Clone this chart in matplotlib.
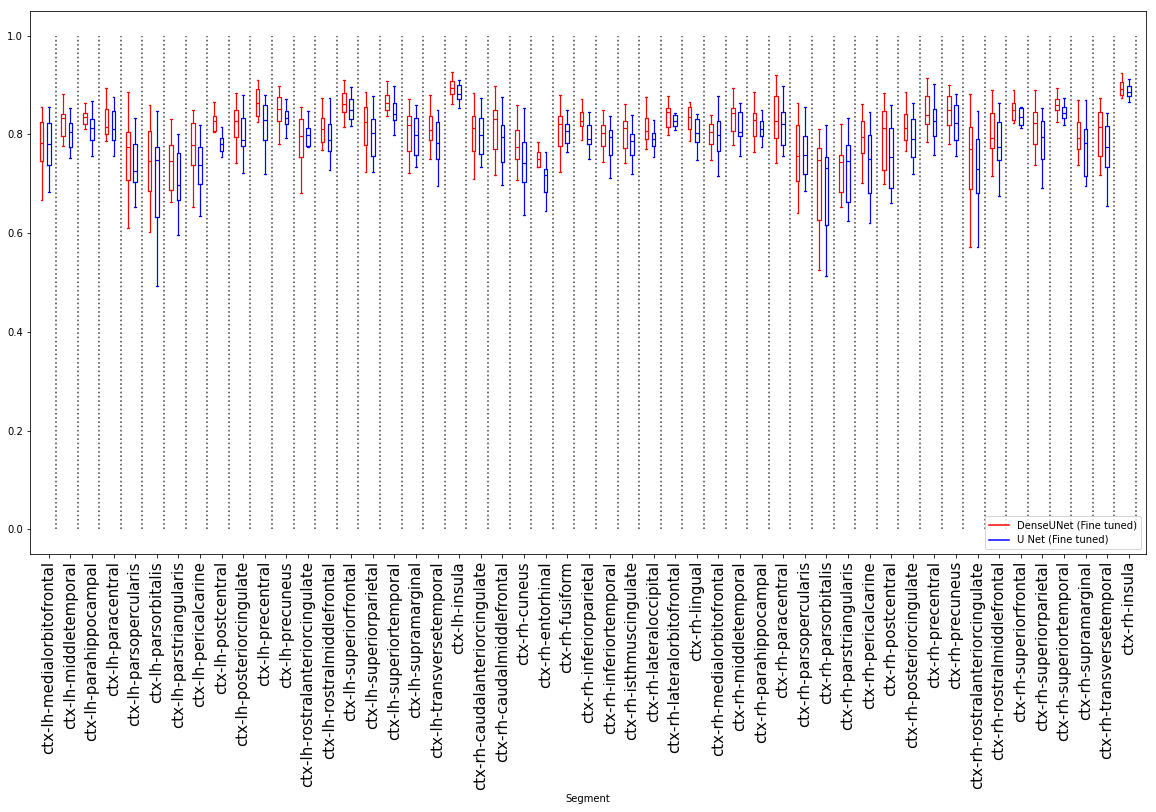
import matplotlib
matplotlib.use("Agg")
import matplotlib.pyplot as plt
from matplotlib.lines import Line2D


segments = [
    "ctx-lh-medialorbitofrontal", "ctx-lh-middletemporal", "ctx-lh-parahippocampal",
    "ctx-lh-paracentral", "ctx-lh-parsopercularis", "ctx-lh-parsorbitalis",
    "ctx-lh-parstriangularis", "ctx-lh-pericalcarine", "ctx-lh-postcentral",
    "ctx-lh-posteriorcingulate", "ctx-lh-precentral", "ctx-lh-precuneus",
    "ctx-lh-rostralanteriorcingulate", "ctx-lh-rostralmiddlefrontal",
    "ctx-lh-superiorfrontal", "ctx-lh-superiorparietal", "ctx-lh-superiortemporal",
    "ctx-lh-supramarginal", "ctx-lh-transversetemporal", "ctx-lh-insula",
    "ctx-rh-caudalanteriorcingulate", "ctx-rh-caudalmiddlefrontal", "ctx-rh-cuneus",
    "ctx-rh-entorhinal", "ctx-rh-fusiform", "ctx-rh-inferiorparietal",
    "ctx-rh-inferiortemporal", "ctx-rh-isthmuscingulate", "ctx-rh-lateraloccipital",
    "ctx-rh-lateralorbitofrontal", "ctx-rh-lingual", "ctx-rh-medialorbitofrontal",
    "ctx-rh-middletemporal", "ctx-rh-parahippocampal", "ctx-rh-paracentral",
    "ctx-rh-parsopercularis", "ctx-rh-parsorbitalis", "ctx-rh-parstriangularis",
    "ctx-rh-pericalcarine", "ctx-rh-postcentral", "ctx-rh-posteriorcingulate",
    "ctx-rh-precentral", "ctx-rh-precuneus", "ctx-rh-rostralanteriorcingulate",
    "ctx-rh-rostralmiddlefrontal", "ctx-rh-superiorfrontal", "ctx-rh-superiorparietal",
    "ctx-rh-superiortemporal", "ctx-rh-supramarginal", "ctx-rh-transversetemporal",
    "ctx-rh-insula",
]

# DenseUNet (Fine tuned): whisker high, q3, median, q1, whisker low
dense_hi = [0.855, 0.882, 0.863, 0.894, 0.886, 0.859, 0.831, 0.849, 0.865, 0.884,
            0.910, 0.898, 0.855, 0.874, 0.910, 0.886, 0.908, 0.872, 0.880, 0.926,
            0.884, 0.898, 0.859, 0.784, 0.880, 0.872, 0.849, 0.861, 0.876, 0.878,
            0.865, 0.839, 0.894, 0.886, 0.920, 0.863, 0.811, 0.821, 0.861, 0.884,
            0.886, 0.914, 0.900, 0.882, 0.890, 0.890, 0.890, 0.894, 0.869, 0.874,
            0.924]
dense_q3 = [0.825, 0.841, 0.843, 0.851, 0.805, 0.807, 0.778, 0.823, 0.837, 0.849,
            0.892, 0.876, 0.831, 0.833, 0.884, 0.855, 0.880, 0.837, 0.837, 0.908,
            0.837, 0.849, 0.809, 0.764, 0.837, 0.845, 0.819, 0.827, 0.833, 0.853,
            0.855, 0.821, 0.853, 0.843, 0.878, 0.819, 0.772, 0.758, 0.827, 0.847,
            0.841, 0.878, 0.878, 0.815, 0.843, 0.863, 0.845, 0.872, 0.825, 0.845,
            0.906]
dense_med = [0.782, 0.833, 0.835, 0.815, 0.774, 0.746, 0.746, 0.778, 0.827, 0.827,
             0.863, 0.851, 0.796, 0.811, 0.861, 0.825, 0.863, 0.819, 0.809, 0.894,
             0.813, 0.831, 0.774, 0.750, 0.821, 0.827, 0.803, 0.813, 0.807, 0.845,
             0.835, 0.805, 0.843, 0.829, 0.827, 0.756, 0.748, 0.744, 0.794, 0.813,
             0.813, 0.839, 0.849, 0.770, 0.792, 0.849, 0.823, 0.859, 0.792, 0.815,
             0.892]
dense_q1 = [0.746, 0.797, 0.821, 0.801, 0.707, 0.685, 0.687, 0.738, 0.807, 0.795,
            0.837, 0.827, 0.754, 0.784, 0.845, 0.778, 0.849, 0.766, 0.788, 0.882,
            0.766, 0.770, 0.750, 0.734, 0.776, 0.817, 0.776, 0.772, 0.790, 0.815,
            0.811, 0.780, 0.807, 0.797, 0.792, 0.705, 0.626, 0.683, 0.762, 0.728,
            0.788, 0.821, 0.819, 0.689, 0.772, 0.829, 0.780, 0.849, 0.770, 0.756,
            0.880]
dense_lo = [0.667, 0.776, 0.811, 0.786, 0.610, 0.602, 0.663, 0.652, 0.805, 0.742,
            0.825, 0.780, 0.681, 0.768, 0.815, 0.724, 0.837, 0.721, 0.750, 0.861,
            0.709, 0.717, 0.707, 0.734, 0.724, 0.788, 0.744, 0.742, 0.770, 0.799,
            0.786, 0.748, 0.778, 0.764, 0.742, 0.640, 0.525, 0.652, 0.701, 0.699,
            0.766, 0.784, 0.780, 0.571, 0.715, 0.823, 0.738, 0.825, 0.738, 0.717,
            0.874]

# U Net (Fine tuned)
unet_hi = [0.855, 0.853, 0.867, 0.876, 0.833, 0.847, 0.801, 0.819, 0.815, 0.880,
           0.880, 0.872, 0.847, 0.874, 0.896, 0.878, 0.898, 0.859, 0.849, 0.910,
           0.874, 0.876, 0.853, 0.764, 0.849, 0.845, 0.837, 0.839, 0.829, 0.843,
           0.841, 0.878, 0.863, 0.849, 0.898, 0.855, 0.819, 0.833, 0.845, 0.859,
           0.863, 0.902, 0.882, 0.847, 0.863, 0.855, 0.853, 0.874, 0.869, 0.843,
           0.912]
unet_q3 = [0.823, 0.823, 0.831, 0.847, 0.780, 0.774, 0.762, 0.774, 0.792, 0.833,
           0.859, 0.847, 0.813, 0.821, 0.872, 0.831, 0.863, 0.833, 0.825, 0.900,
           0.833, 0.819, 0.784, 0.730, 0.821, 0.819, 0.809, 0.801, 0.803, 0.839,
           0.831, 0.827, 0.845, 0.827, 0.845, 0.797, 0.754, 0.778, 0.799, 0.813,
           0.831, 0.851, 0.859, 0.790, 0.825, 0.853, 0.827, 0.855, 0.811, 0.817,
           0.898]
unet_med = [0.780, 0.805, 0.813, 0.811, 0.726, 0.748, 0.697, 0.738, 0.780, 0.788,
            0.829, 0.833, 0.799, 0.788, 0.849, 0.803, 0.841, 0.799, 0.782, 0.882,
            0.799, 0.795, 0.742, 0.717, 0.807, 0.790, 0.795, 0.786, 0.790, 0.827,
            0.803, 0.799, 0.805, 0.811, 0.821, 0.758, 0.732, 0.746, 0.750, 0.754,
            0.790, 0.827, 0.823, 0.730, 0.774, 0.835, 0.795, 0.843, 0.782, 0.774,
            0.886]
unet_q1 = [0.738, 0.774, 0.788, 0.788, 0.703, 0.632, 0.667, 0.699, 0.766, 0.776,
           0.788, 0.821, 0.776, 0.766, 0.831, 0.756, 0.829, 0.758, 0.750, 0.872,
           0.760, 0.744, 0.703, 0.683, 0.782, 0.780, 0.758, 0.758, 0.776, 0.817,
           0.784, 0.766, 0.797, 0.797, 0.778, 0.719, 0.616, 0.663, 0.681, 0.691,
           0.754, 0.797, 0.788, 0.681, 0.748, 0.819, 0.750, 0.833, 0.715, 0.734,
           0.878]
unet_lo = [0.683, 0.752, 0.756, 0.756, 0.652, 0.492, 0.596, 0.634, 0.754, 0.722,
           0.719, 0.792, 0.774, 0.728, 0.817, 0.724, 0.799, 0.734, 0.695, 0.853,
           0.734, 0.697, 0.636, 0.644, 0.764, 0.750, 0.711, 0.719, 0.754, 0.809,
           0.748, 0.715, 0.756, 0.774, 0.756, 0.685, 0.513, 0.624, 0.620, 0.661,
           0.719, 0.758, 0.756, 0.571, 0.675, 0.813, 0.691, 0.819, 0.695, 0.654,
           0.865]


def make_stats(lo, q1, med, q3, hi):
    return [dict(whislo=a, q1=b, med=c, q3=d, whishi=e, fliers=[])
            for a, b, c, d, e in zip(lo, q1, med, q3, hi)]


n = len(segments)
pos_dense = [3 * i + 1 for i in range(n)]
pos_unet = [3 * i + 2 for i in range(n)]
sep = [3 * i + 3 for i in range(n)]

fig = plt.figure(figsize=(1156 / 72, 812 / 72), dpi=72)
ax = fig.add_axes([30 / 1156, 1 - 554 / 812, 1116 / 1156, 543 / 812])


def draw(stats, pos, col):
    ax.bxp(stats, positions=pos, widths=0.5, showfliers=False, manage_ticks=False,
           boxprops=dict(color=col, lw=1.2), whiskerprops=dict(color=col, lw=1.2),
           capprops=dict(color=col, lw=1.2), medianprops=dict(color=col, lw=1.2))


draw(make_stats(dense_lo, dense_q1, dense_med, dense_q3, dense_hi), pos_dense, "red")
draw(make_stats(unet_lo, unet_q1, unet_med, unet_q3, unet_hi), pos_unet, "blue")

ax.vlines(sep, 0, 1, colors="0.3", linestyles=":", lw=1.6)

ax.set_xlim(-0.6, 154.4)
ax.set_ylim(-0.05, 1.05)
ax.set_xticks(pos_unet)
ax.set_xticklabels(segments, rotation=90, fontsize=15)
ax.set_yticks([0.0, 0.2, 0.4, 0.6, 0.8, 1.0])
ax.tick_params(axis="y", labelsize=10)
ax.set_xlabel("Segment", fontsize=10)

handles = [Line2D([], [], color="red"), Line2D([], [], color="blue")]
ax.legend(handles, ["DenseUNet (Fine tuned)", "U Net (Fine tuned)"], loc="lower right", fontsize=10)

fig.savefig("out.png", dpi=72)
